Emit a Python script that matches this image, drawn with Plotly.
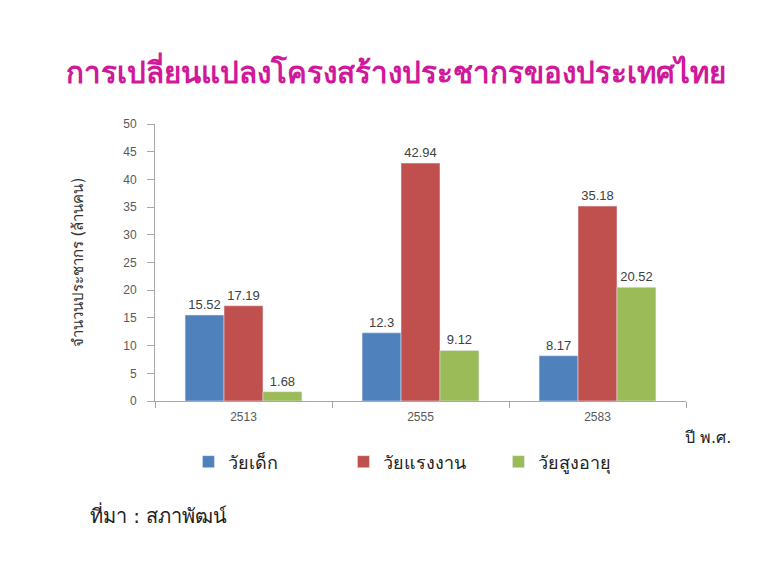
import plotly.graph_objects as go

years = ["2513", "2555", "2583"]
series_names = ["วัยเด็ก", "วัยแรงงาน", "วัยสูงอายุ"]
children = [15.52, 12.3, 8.17]
working = [17.19, 42.94, 35.18]
elderly = [1.68, 9.12, 20.52]
colors = ["#4F81BD", "#C0504D", "#9BBB59"]

fig = go.Figure()
for name, vals, col in zip(series_names, [children, working, elderly], colors):
    fig.add_trace(go.Bar(
        x=years, y=vals, name=name, marker_color=col,
        text=[str(v) for v in vals], textposition="outside",
        textfont=dict(size=13, color="#404040", family="Liberation Sans"),
        cliponaxis=False,
    ))

fig.update_layout(
    width=768, height=576,
    paper_bgcolor="white", plot_bgcolor="white",
    margin=dict(l=147, r=90, t=116, b=183),
    barmode="group", bargap=0.34, bargroupgap=0,
    font=dict(family="DejaVu Sans"),
    title=dict(text="<b>การเปลี่ยนแปลงโครงสร้างประชากรของประเทศไทย</b>",
               x=0.505, xanchor="center", y=0.887, yanchor="middle",
               font=dict(size=29.5, color="#D0189A")),
    legend=dict(orientation="h", x=0.063, xanchor="left", y=-0.22, yanchor="middle",
                font=dict(size=18, color="#222222"), entrywidth=110),
    showlegend=True,
)
fig.update_yaxes(range=[0, 50], dtick=5, showline=True, linecolor="#A6A6A6",
                 ticks="outside", ticklen=7, tickcolor="#A6A6A6", showgrid=False,
                 zeroline=False, ticklabelstandoff=8,
                 tickfont=dict(size=12, color="#595959", family="Liberation Sans"),
                 title=dict(text="จำนวนประชากร (ล้านคน)", font=dict(size=15, color="#333333"),
                            standoff=35))
fig.update_xaxes(showline=True, linecolor="#A6A6A6", ticks="outside", ticklen=6,
                 tickcolor="#A6A6A6", tickson="boundaries", showgrid=False,
                 ticklabelstandoff=5,
                 tickfont=dict(size=12, color="#595959", family="Liberation Sans"))

fig.add_annotation(text="ปี พ.ศ.", xref="paper", yref="paper", x=0.994, y=-0.13,
                   xanchor="left", yanchor="middle", showarrow=False,
                   font=dict(size=16, color="#222222"))
fig.add_annotation(text="ที่มา : สภาพัฒน์", xref="paper", yref="paper", x=-0.126, y=-0.41,
                   xanchor="left", yanchor="middle", showarrow=False,
                   font=dict(size=20, color="#222222"))

fig.write_html("out.html")
